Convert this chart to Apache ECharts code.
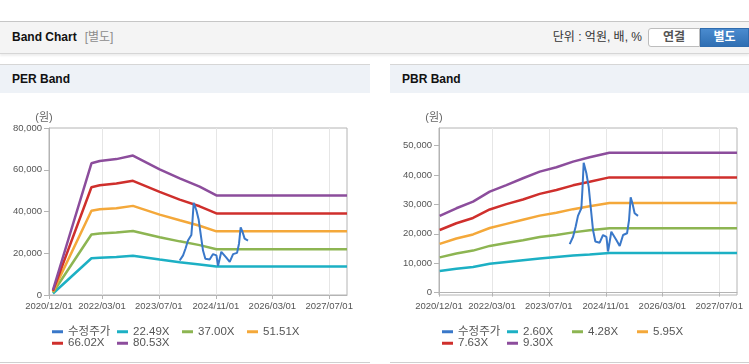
<!DOCTYPE html>
<html lang="ko">
<head>
<meta charset="utf-8">
<title>Band Chart</title>
<script src="https://cdn.jsdelivr.net/npm/echarts@6/dist/echarts.min.js"></script>
<style>
  body { margin:0; width:749px; height:364px; position:relative; overflow:hidden; background:#fff;
         font-family:"Liberation Sans", Arial, "Noto Sans CJK KR", sans-serif; }
  .top { position:absolute; left:0; top:21px; width:749px; height:31px; background:#f4f4f4;
         border-top:1px solid #c6c6c6; border-bottom:1px solid #d6d6d6; box-shadow:0 2px 2px rgba(0,0,0,0.07); }
  .top .ttl { position:absolute; left:12px; top:0; line-height:31px; font-size:12px; font-weight:bold; color:#111; }
  .top .sub { color:#8c8c8c; font-weight:normal; margin-left:8px; }
  .unit { position:absolute; right:107px; top:0; line-height:31px; font-size:12px; color:#333; }
  .btn { position:absolute; top:6px; height:19px; line-height:17px; font-size:12px; font-weight:bold;
         text-align:center; box-sizing:border-box; }
  .btn1 { left:648px; width:52px; background:#fff; border:1px solid #bdbdbd; border-radius:3px 0 0 3px; color:#555; }
  .btn2 { left:700px; width:49px; background:linear-gradient(#4a8bcf,#2f6fb3); color:#fff; border:1px solid #2f6cae; }
  .panel { position:absolute; top:64px; height:297px; border-top:1px solid #d6d6d6; border-bottom:1px solid #d0d0d0; }
  .panel .hd { height:28px; background:#eef2f7; font-size:12px; font-weight:bold; color:#111; line-height:28px; padding-left:12px; }
  .chart { width:100%; height:269px; }
</style>
</head>
<body>
<div class="top">
  <div class="ttl">Band Chart<span class="sub">[별도]</span></div>
  <div class="unit">단위 : 억원, 배, %</div>
  <div class="btn btn1">연결</div>
  <div class="btn btn2">별도</div>
</div>
<div class="panel" style="left:0; width:370px;">
  <div class="hd">PER Band</div>
  <div class="chart" id="per"></div>
</div>
<div class="panel" style="left:390px; width:359px;">
  <div class="hd">PBR Band</div>
  <div class="chart" id="pbr"></div>
</div>

<script type="text/javascript">
// x axis
const xMin = '2020-12-01';
const xMax = '2027-12-01';
const tickDates = ['2020-12-01', '2022-03-01', '2023-07-01', '2024-11-01', '2026-03-01', '2027-07-01'];

const colors = ['#3a78c9', '#1cb0c4', '#8db552', '#f4a83a', '#cf2f2c', '#8c4d9c'];
const perNames = ['수정주가', '22.49X', '37.00X', '51.51X', '66.02X', '80.53X'];
const pbrNames = ['수정주가', '2.60X', '4.28X', '5.95X', '7.63X', '9.30X'];

// 수정주가 (same in both charts)
const priceDates = ['2023-12-27', '2024-01-25', '2024-02-16', '2024-03-07', '2024-04-05', '2024-04-14',
  '2024-04-25', '2024-05-18', '2024-06-07', '2024-06-24', '2024-07-14', '2024-08-03', '2024-09-09',
  '2024-10-08', '2024-11-06', '2024-11-20', '2024-12-18', '2025-01-30', '2025-02-28', '2025-03-29',
  '2025-05-02', '2025-05-19', '2025-06-02', '2025-06-17', '2025-07-06', '2025-08-04'];
const priceValues = [16500, 19000, 22400, 26100, 28700, 34900, 44200, 40600, 36000, 29200, 21300,
  17400, 17000, 19600, 19000, 14000, 20700, 17900, 15900, 19600, 20200, 24700, 32400, 30400, 27000, 26100];

// PER bands
const perBandDates = ['2021-01-04', '2021-11-30', '2022-02-09', '2022-07-02', '2022-11-21',
  '2023-07-08', '2023-12-27', '2024-06-15', '2024-11-06', '2027-12-01'];
const per2249 = [700, 17600, 17900, 18200, 18800, 17000, 15700, 14600, 13600, 13600];
const per3700 = [1200, 29000, 29500, 29900, 30700, 27700, 25700, 23900, 21900, 21900];
const per5151 = [1600, 40400, 41100, 41600, 42700, 38500, 35800, 33200, 30500, 30500];
const per6602 = [2000, 51600, 52600, 53400, 54700, 49400, 45700, 42500, 39100, 39100];
const per8053 = [2400, 63100, 64200, 65100, 66800, 60200, 55900, 51900, 47700, 47700];

// PBR bands
const pbrBandDates = ['2020-12-07', '2021-04-29', '2021-09-19', '2022-02-09', '2022-07-02', '2022-11-21',
  '2023-04-14', '2023-09-04', '2024-01-25', '2024-06-15', '2024-12-01', '2027-12-01'];
const pbr260 = [7400, 8100, 8700, 9800, 10400, 11000, 11600, 12100, 12600, 13000, 13500, 13500];
const pbr428 = [12000, 13300, 14300, 15900, 16900, 17800, 18900, 19600, 20500, 21200, 21900, 21900];
const pbr595 = [16600, 18400, 19800, 22000, 23400, 24800, 26200, 27200, 28400, 29400, 30500, 30500];
const pbr763 = [21300, 23600, 25400, 28300, 30100, 31700, 33600, 34900, 36500, 37700, 39200, 39200];
const pbr930 = [26100, 28700, 30950, 34350, 36600, 38900, 41150, 42650, 44550, 46050, 47600, 47600];

const pbrTicks = [0, 10000, 20000, 30000, 40000, 50000];

function ts(s) { return Date.parse(s + 'T00:00:00Z'); }
function pairs(dates, vals) { return dates.map(function (d, i) { return [ts(d), vals[i]]; }); }
function pad(n) { return n < 10 ? '0' + n : '' + n; }
function fmtDate(v) {
  const d = new Date(v);
  return d.getUTCFullYear() + '/' + pad(d.getUTCMonth() + 1) + '/' + pad(d.getUTCDate());
}

const font = '"Liberation Sans", Arial, "Noto Sans CJK KR", sans-serif';
const gray = '#b4b4b4';

function makeOption(names, bandDates, bands, right, yAxis) {
  const series = bands.map(function (vals, i) {
    return {
      name: names[i + 1], type: 'line', data: pairs(bandDates, vals), showSymbol: false,
      itemStyle: { color: colors[i + 1] }, lineStyle: { color: colors[i + 1], width: 2.5 }
    };
  });
  series.push({
    name: names[0], type: 'line', data: pairs(priceDates, priceValues), showSymbol: false,
    itemStyle: { color: colors[0] }, lineStyle: { color: colors[0], width: 2 }
  });
  return {
    animation: false,
    textStyle: { fontFamily: font },
    grid: { left: 49, right: right, top: 35, bottom: 67, show: true, borderColor: gray, borderWidth: 1 },
    legend: {
      data: names, left: 52, top: 233, width: 262, padding: 0, itemGap: 0,
      itemWidth: 11, itemHeight: 3, icon: 'rect',
      formatter: function (n) { return '{t|' + n + '}'; },
      textStyle: { color: '#555', fontSize: 11,
        rich: { t: { width: 49, fontSize: 11.5, lineHeight: 13.5, color: '#555', fontFamily: font } } }
    },
    xAxis: {
      type: 'value', min: ts(xMin), max: ts(xMax),
      axisLine: { lineStyle: { color: gray } },
      axisTick: { customValues: tickDates.map(ts), length: 4, lineStyle: { color: gray } },
      axisLabel: { customValues: tickDates.map(ts), formatter: fmtDate, color: '#555', fontSize: 9.5, margin: 7 },
      splitLine: { show: true, lineStyle: { color: '#e6e6e6' } }
    },
    yAxis: yAxis,
    series: series
  };
}

function yBase() {
  return {
    type: 'value', name: '(원)', nameLocation: 'end', nameGap: 5,
    nameTextStyle: { color: '#666', fontSize: 11, padding: [0, 10, 0, 0] },
    axisLine: { show: true, lineStyle: { color: gray } },
    axisTick: { show: true, length: 5, lineStyle: { color: gray } },
    axisLabel: { color: '#555', fontSize: 9.5, margin: 7 },
    splitLine: { show: false }
  };
}

const perY = Object.assign(yBase(), { min: 0, max: 80000, interval: 20000 });
const pbrY = yBase();
pbrY.min = -800;
pbrY.max = 56000;
pbrY.axisTick.customValues = pbrTicks;
pbrY.axisLabel.customValues = pbrTicks;

const perChart = echarts.init(document.getElementById('per'));
perChart.setOption(makeOption(perNames, perBandDates, [per2249, per3700, per5151, per6602, per8053], 23, perY));

const pbrChart = echarts.init(document.getElementById('pbr'));
pbrChart.setOption(makeOption(pbrNames, pbrBandDates, [pbr260, pbr428, pbr595, pbr763, pbr930], 12, pbrY));
</script>
</body>
</html>
